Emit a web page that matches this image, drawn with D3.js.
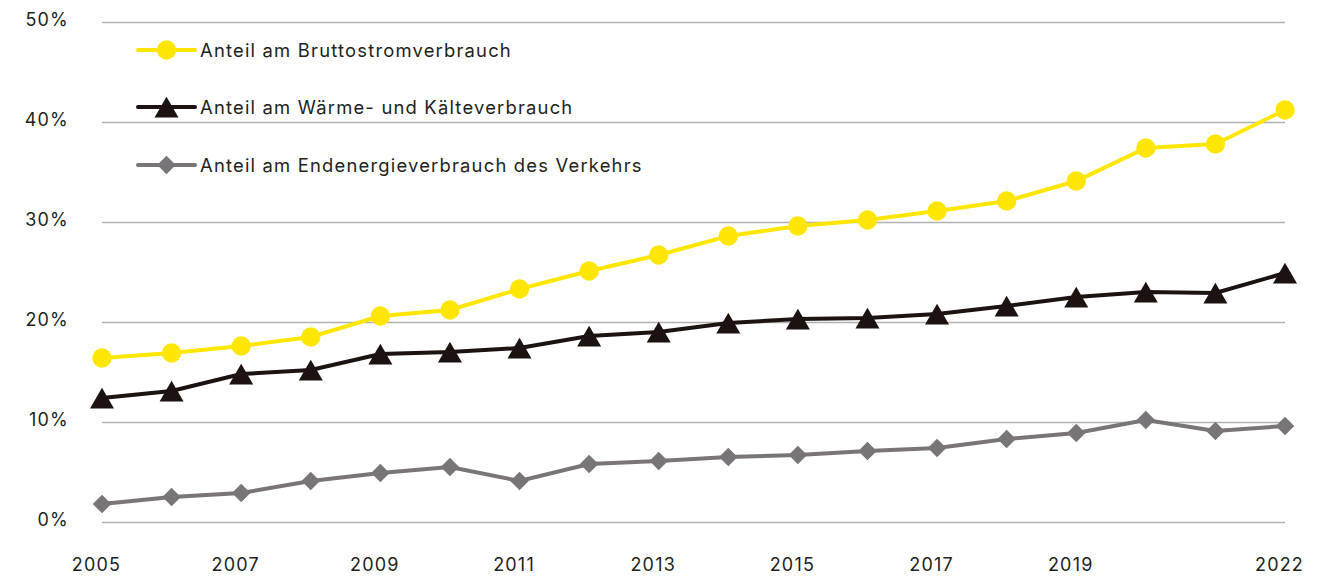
<!DOCTYPE html>
<html>
<head>
<meta charset="utf-8">
<script src="https://cdn.jsdelivr.net/npm/d3@7"></script>
<style>
  body { margin: 0; background: #fff; }
  svg text { font-family: Inter, "Noto Sans", sans-serif; fill: #231f20; letter-spacing: 1.2px; }
</style>
</head>
<body>
<div id="chart"></div>
<script>
// data
var years = [2005, 2006, 2007, 2008, 2009, 2010, 2011, 2012, 2013, 2014, 2015, 2016, 2017, 2018, 2019, 2020, 2021, 2022];
var strom = [16.4, 16.9, 17.6, 18.5, 20.6, 21.2, 23.3, 25.1, 26.7, 28.6, 29.6, 30.2, 31.1, 32.1, 34.1, 37.4, 37.8, 41.2];
var waerme = [12.4, 13.1, 14.8, 15.2, 16.8, 17.0, 17.4, 18.6, 19.0, 19.9, 20.3, 20.4, 20.8, 21.6, 22.5, 23.0, 22.9, 24.9];
var verkehr = [1.8, 2.5, 2.9, 4.1, 4.9, 5.5, 4.1, 5.8, 6.1, 6.5, 6.7, 7.1, 7.4, 8.3, 8.9, 10.2, 9.1, 9.6];
var xTicks = [2005, 2007, 2009, 2011, 2013, 2015, 2017, 2019, 2022];
var yTicks = [0, 10, 20, 30, 40, 50];
var seriesNames = ["Anteil am Bruttostromverbrauch", "Anteil am Wärme- und Kälteverbrauch", "Anteil am Endenergieverbrauch des Verkehrs"];

var width = 1344, height = 578;
var margin = { top: 22, left: 102, right: 59, bottom: 56 };

var svg = d3.select("#chart").append("svg")
    .attr("width", width)
    .attr("height", height);

var x = d3.scaleLinear()
    .domain([2005, 2022])
    .range([margin.left, width - margin.right]);

var y = d3.scaleLinear()
    .domain([0, 50])
    .range([height - margin.bottom, margin.top]);

// grid lines + y labels
var yAxis = d3.axisLeft(y)
    .tickValues(yTicks)
    .tickSize(-(width - margin.right - margin.left))
    .tickFormat(function (d) { return d + "%"; });

var gy = svg.append("g")
    .attr("transform", "translate(" + margin.left + ",0)")
    .call(yAxis);
gy.select(".domain").remove();
gy.selectAll(".tick line").attr("stroke", "#b0b0b0").attr("stroke-width", 1.3);
gy.selectAll(".tick text")
    .attr("x", -33)
    .attr("dy", "0.2em")
    .style("font-size", "18px");

// x labels
var xAxis = d3.axisBottom(x)
    .tickValues(xTicks)
    .tickSize(0)
    .tickFormat(d3.format("d"));
var gx = svg.append("g")
    .attr("transform", "translate(0," + (height - margin.bottom) + ")")
    .call(xAxis);
gx.select(".domain").remove();
gx.selectAll(".tick text")
    .attr("y", 49)
    .attr("dx", -6)
    .attr("dy", 0)
    .style("font-size", "18px");

var series = [
    { name: seriesNames[0], values: strom, color: "#ffe600", symbol: d3.symbolCircle, size: 295, rot: 0, off: 0 },
    { name: seriesNames[1], values: waerme, color: "#1c1210", symbol: d3.symbolTriangle, size: 250, rot: 0, off: 3.5 },
    { name: seriesNames[2], values: verkehr, color: "#787477", symbol: d3.symbolSquare, size: 170, rot: 45, off: 0 }
];

var line = d3.line()
    .x(function (d, i) { return x(years[i]); })
    .y(function (d) { return y(d); });

// draw from bottom to top so yellow is on top
series.slice().reverse().forEach(function (s) {
    var g = svg.append("g");
    g.append("path")
        .attr("d", line(s.values))
        .attr("fill", "none")
        .attr("stroke", s.color)
        .attr("stroke-width", 4);
    g.selectAll(".pt")
        .data(s.values)
        .enter().append("path")
        .attr("class", "pt")
        .attr("d", d3.symbol().type(s.symbol).size(s.size))
        .attr("fill", s.color)
        .attr("transform", function (d, i) {
            return "translate(" + x(years[i]) + "," + (y(d) + s.off) + ") rotate(" + s.rot + ")";
        });
});

// legend
var legendY = [50, 107, 165];
series.forEach(function (s, i) {
    var lg = svg.append("g").attr("transform", "translate(138," + legendY[i] + ")");
    lg.append("line")
        .attr("x1", 0).attr("x2", 57)
        .attr("stroke", s.color)
        .attr("stroke-width", 4)
        .attr("stroke-linecap", "round");
    lg.append("path")
        .attr("d", d3.symbol().type(s.symbol).size(s.size))
        .attr("fill", s.color)
        .attr("transform", "translate(28.5," + s.off + ") rotate(" + s.rot + ")");
    lg.append("text")
        .attr("x", 62)
        .attr("dy", "0.38em")
        .style("font-size", "18.4px")
        .text(s.name);
});
</script>
</body>
</html>
